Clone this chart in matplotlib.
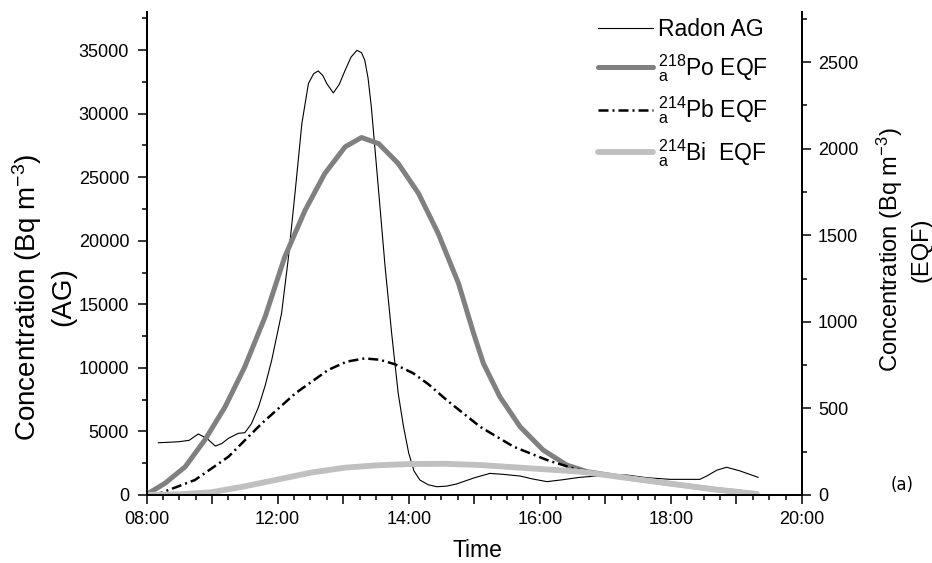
import numpy as np
import matplotlib
matplotlib.use('Agg')
import matplotlib.pyplot as plt
from matplotlib.ticker import MultipleLocator, FixedLocator

plt.rcParams['font.family'] = ['Liberation Sans', 'DejaVu Sans']
plt.rcParams['mathtext.fontset'] = 'custom'
plt.rcParams['mathtext.rm'] = 'Liberation Sans'
plt.rcParams['mathtext.it'] = 'Liberation Sans:italic'

# Radon AG (left axis), time in decimal hours
radon_t = [10.18, 10.35, 10.49, 10.65, 10.79, 10.92, 11.05, 11.15, 11.25, 11.40,
           11.50, 11.60, 11.71, 11.81, 11.91, 12.06, 12.16, 12.27, 12.37, 12.47,
           12.55, 12.62, 12.69, 12.75, 12.85, 12.94, 13.03, 13.12, 13.21, 13.28,
           13.33, 13.38, 13.43, 13.54, 13.64, 13.74, 13.84, 13.92, 14.00, 14.08,
           14.17, 14.30, 14.43, 14.58, 14.73, 15.00, 15.24, 15.45, 15.70, 15.90,
           16.11, 16.35, 16.61, 16.90, 17.12, 17.33, 17.63, 17.99, 18.44, 18.55,
           18.70, 18.85, 19.05, 19.33]
radon_v = [4110, 4150, 4190, 4300, 4800, 4460, 3850, 4050, 4460, 4850,
           4900, 5600, 6940, 8600, 10610, 14280, 18470, 23980, 29220, 32370,
           33150, 33360, 33000, 32370, 31630, 32300, 33410, 34450, 34980, 34800,
           34200, 32800, 30530, 23980, 17950, 12710, 7990, 5400, 3300, 1900,
           1180, 800, 650, 700, 865, 1350, 1700, 1620, 1490, 1250,
           1050, 1200, 1390, 1500, 1570, 1570, 1360, 1230, 1230, 1500,
           1950, 2180, 1900, 1390]

# 218Po EQF (right axis)
po_t = [10.0, 10.03, 10.28, 10.59, 10.89, 11.20, 11.50, 11.81, 12.11, 12.42,
        12.72, 13.03, 13.28, 13.54, 13.84, 14.15, 14.45, 14.76, 14.99, 15.14,
        15.39, 15.70, 16.05, 16.41, 16.72, 17.00, 17.38, 18.14, 18.65, 19.31]
po_v = [0, 10, 67, 163, 318, 510, 741, 1030, 1376, 1645,
        1857, 2011, 2065, 2030, 1915, 1742, 1511, 1222, 934, 760,
        568, 394, 260, 173, 135, 118, 96, 58, 33, 6]

# 214Pb EQF (right axis)
pb_t = [10.1, 10.23, 10.74, 11.25, 11.76, 12.27, 12.77, 13.05, 13.33, 13.56,
        13.79, 14.07, 14.30, 14.58, 15.09, 15.60, 16.11, 16.51, 16.80]
pb_v = [0, 13, 87, 221, 414, 587, 722, 770, 789, 781,
        755, 703, 640, 548, 394, 279, 202, 154, 132]

# 214Bi EQF (right axis)
bi_t = [10.0, 10.5, 10.99, 11.50, 12.01, 12.52, 13.03, 13.54, 14.05, 14.56,
        15.09, 15.85, 16.61, 17.38, 18.14, 18.65, 19.31]
bi_v = [0, 4, 16, 50, 90, 130, 158, 172, 179, 180,
        173, 154, 135, 96, 58, 33, 6]

hour_ticks = [10, 11, 12, 13, 14, 15, 16, 17, 18, 19, 20]
hour_labels = ['08:00', '', '12:00', '', '14:00', '', '16:00', '', '18:00', '', '20:00']

fig = plt.figure(figsize=(9.32, 5.63), dpi=100)
ax = fig.add_axes([0.1572, 0.1208, 0.7033, 0.8579])
ax2 = ax.twinx()

l1, = ax.plot(radon_t, radon_v, color='black', lw=0.8, label='Radon AG')
l2, = ax2.plot(po_t, po_v, color='#808080', lw=3.6, solid_capstyle='round',
               solid_joinstyle='round', label=r'$^{218}_{\mathrm{a}}$Po EQF')
l3, = ax2.plot(pb_t, pb_v, color='black', lw=1.8,
               linestyle=(0, (4, 1.6, 0.8, 1.6)), label=r'$^{214}_{\mathrm{a}}$Pb EQF')
l4, = ax2.plot(bi_t, bi_v, color='#c0c0c0', lw=4.2, solid_capstyle='round',
               solid_joinstyle='round', label=r'$^{214}_{\mathrm{a}}$Bi  EQF')

ax.set_xlim(10, 20)
ax.set_ylim(0, 38000)
ax2.set_ylim(0, 2790)

ax.xaxis.set_major_locator(FixedLocator(hour_ticks))
ax.set_xticklabels(hour_labels)
ax.xaxis.set_minor_locator(MultipleLocator(0.25))
ax.yaxis.set_major_locator(MultipleLocator(5000))
ax.yaxis.set_minor_locator(MultipleLocator(2500))
ax2.yaxis.set_major_locator(MultipleLocator(500))
ax2.yaxis.set_minor_locator(MultipleLocator(250))

for a in (ax, ax2):
    a.spines['top'].set_visible(False)
    for s in ('left', 'right', 'bottom'):
        a.spines[s].set_linewidth(1.4)
    a.tick_params(which='major', direction='out', length=6.5, width=1.1, labelsize=13)
    a.tick_params(which='minor', direction='out', length=3.5, width=1.1)
ax.tick_params(axis='y', which='major', pad=6)
ax.tick_params(axis='x', which='major', pad=5)
ax2.tick_params(axis='y', which='major', pad=5)

fig.text(43.5 / 932, 0.4725, 'Concentration (Bq m$^{-3}$)\n(AG)', rotation=90,
         ha='center', va='center', multialignment='center', fontsize=20,
         linespacing=1.3)
fig.text(903.5 / 932, 0.556, 'Concentration (Bq m$^{-3}$)\n(EQF)', rotation=90,
         ha='center', va='center', multialignment='center', fontsize=17,
         linespacing=1.3)
fig.text(477 / 932, 0.023, 'Time', ha='center', va='center', fontsize=16.5)
fig.text(902 / 932, 0.139, '(a)', ha='center', va='center', fontsize=12,
         family='DejaVu Sans')

ax2.legend(handles=[l1, l2, l3, l4], loc='upper left',
           bbox_to_anchor=(598 / 932, 1 - 18 / 563), bbox_transform=fig.transFigure,
           frameon=False, fontsize=16.5, borderpad=0, borderaxespad=0,
           handlelength=2.4, handletextpad=0.2, labelspacing=0.48)

plt.savefig('out.png', dpi=100)
